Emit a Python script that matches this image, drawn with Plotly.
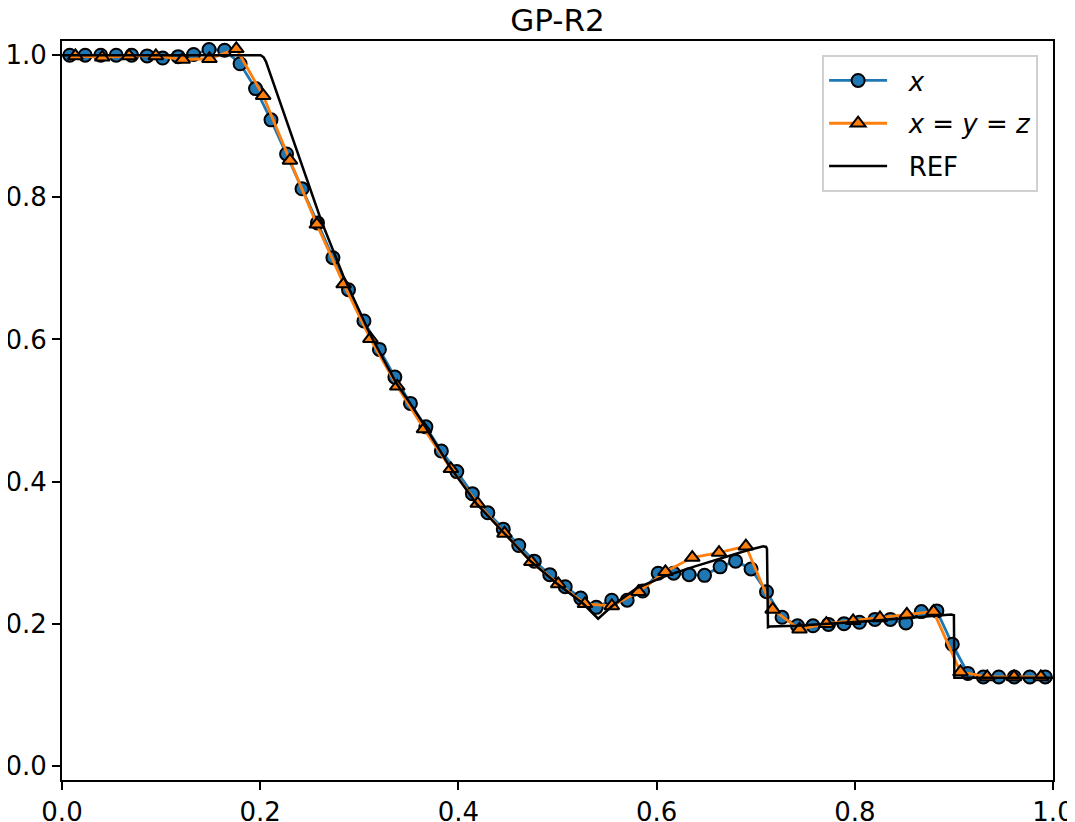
import plotly.graph_objects as go

# 1D cut along x (64 cells)
x_cut = [0.0078, 0.0234, 0.0391, 0.0547, 0.0703, 0.0859, 0.1016, 0.1172, 0.1328, 0.1484,
         0.1641, 0.1797, 0.1953, 0.2109, 0.2266, 0.2422, 0.2578, 0.2734, 0.2891, 0.3047,
         0.3203, 0.3359, 0.3516, 0.3672, 0.3828, 0.3984, 0.4141, 0.4297, 0.4453, 0.4609,
         0.4766, 0.4922, 0.5078, 0.5234, 0.5391, 0.5547, 0.5703, 0.5859, 0.6016, 0.6172,
         0.6328, 0.6484, 0.6641, 0.6797, 0.6953, 0.7109, 0.7266, 0.7422, 0.7578, 0.7734,
         0.7891, 0.8047, 0.8203, 0.8359, 0.8516, 0.8672, 0.8828, 0.8984, 0.9141, 0.9297,
         0.9453, 0.9609, 0.9766, 0.9922]
rho_x = [1.000, 1.000, 1.000, 1.000, 1.000, 0.999, 0.996, 0.998, 1.001, 1.008,
         1.007, 0.988, 0.953, 0.909, 0.861, 0.812, 0.764, 0.715, 0.670, 0.626,
         0.586, 0.547, 0.510, 0.477, 0.443, 0.414, 0.383, 0.356, 0.333, 0.310,
         0.288, 0.269, 0.252, 0.236, 0.223, 0.233, 0.233, 0.246, 0.271, 0.271,
         0.269, 0.268, 0.280, 0.288, 0.277, 0.245, 0.209, 0.197, 0.197, 0.199,
         0.200, 0.202, 0.206, 0.206, 0.201, 0.217, 0.218, 0.171, 0.130, 0.125,
         0.125, 0.125, 0.125, 0.125]

# cut along the diagonal x = y = z
x_diag = [0.0135, 0.0406, 0.0677, 0.0947, 0.1218, 0.1488, 0.1759, 0.2030, 0.2300, 0.2571,
          0.2842, 0.3112, 0.3383, 0.3653, 0.3924, 0.4195, 0.4465, 0.4736, 0.5007, 0.5277,
          0.5548, 0.5818, 0.6089, 0.6360, 0.6630, 0.6901, 0.7171, 0.7442, 0.7713, 0.7983,
          0.8254, 0.8525, 0.8795, 0.9066, 0.9336, 0.9607, 0.9878]
rho_diag = [0.999, 0.997, 0.999, 0.999, 0.994, 0.995, 1.009, 0.943, 0.852, 0.762,
            0.678, 0.601, 0.534, 0.474, 0.418, 0.369, 0.327, 0.287, 0.256, 0.228,
            0.225, 0.245, 0.273, 0.293, 0.300, 0.309, 0.220, 0.192, 0.200, 0.204,
            0.208, 0.213, 0.217, 0.132, 0.125, 0.125, 0.125]

# reference solution
x_ref = [0.0, 0.2005, 0.2035, 0.2058, 0.2619, 0.2771, 0.2837, 0.3106, 0.3376, 0.3513,
         0.3644, 0.3913, 0.4182, 0.4451, 0.472, 0.499, 0.526, 0.541, 0.556, 0.580,
         0.607, 0.637, 0.664, 0.691, 0.7076, 0.7105, 0.7114, 0.7124, 0.7141, 0.741,
         0.808, 0.875, 0.8973, 0.900, 0.9005, 1.0]
rho_ref = [1.0, 1.0, 0.997, 0.991, 0.766, 0.714, 0.690, 0.608, 0.538, 0.510,
           0.482, 0.421, 0.369, 0.329, 0.289, 0.257, 0.228, 0.207, 0.226, 0.250,
           0.266, 0.280, 0.292, 0.303, 0.309, 0.308, 0.305, 0.195, 0.196, 0.197,
           0.203, 0.211, 0.213, 0.212, 0.124, 0.124]

pad = "&nbsp;&nbsp;"

fig = go.Figure()
fig.add_trace(go.Scatter(x=x_cut, y=rho_x, mode="lines+markers", name=pad + "<i>x</i>",
                         legendgroup="a",
                         line=dict(color="#1f77b4", width=2.8),
                         marker=dict(symbol="circle", size=13, color="#1f77b4",
                                     line=dict(color="black", width=2))))
fig.add_trace(go.Scatter(x=x_diag, y=rho_diag, mode="lines+markers",
                         name=pad + "<i>x</i> = <i>y</i> = <i>z</i>", legendgroup="b",
                         line=dict(color="#ff7f0e", width=2.8),
                         marker=dict(symbol="triangle-up", size=13, color="#ff7f0e",
                                     line=dict(color="black", width=2))))
fig.add_trace(go.Scatter(x=x_ref, y=rho_ref, mode="lines", name=pad + "REF",
                         legendgroup="c",
                         line=dict(color="black", width=2.5)))

axis_style = dict(showgrid=False, zeroline=False, showline=True, linecolor="black",
                  linewidth=2, mirror=True, ticks="outside", ticklen=8, tickwidth=2,
                  tickcolor="black", tickfont=dict(size=26, color="black"),
                  automargin=False)

fig.update_xaxes(range=[0, 1], tickvals=[0, 0.2, 0.4, 0.6, 0.8, 1.0],
                 ticktext=["0.0", "0.2", "0.4", "0.6", "0.8", "1.0"], **axis_style)
fig.update_yaxes(range=[-0.02, 1.02], tickvals=[0, 0.2, 0.4, 0.6, 0.8, 1.0],
                 ticktext=["0.0", "0.2", "0.4", "0.6", "0.8", "1.0"], **axis_style)

# page sits ~8px in from the window corner, margins account for that
fig.update_layout(
    width=1075, height=822,
    margin=dict(l=54, r=30, t=33, b=50),
    plot_bgcolor="white", paper_bgcolor="white",
    font=dict(family="DejaVu Sans", size=26, color="black"),
    title=dict(text="GP-R2", xref="paper", x=0.5, xanchor="center",
               yref="paper", y=1, yanchor="bottom", pad=dict(b=10),
               font=dict(size=31)),
    legend=dict(x=0.767, y=0.981, xanchor="left", yanchor="top",
                bgcolor="white", bordercolor="#d0d0d0", borderwidth=2,
                itemwidth=58, tracegroupgap=6, font=dict(size=26)),
    showlegend=True,
)

fig.write_html("out.html")
